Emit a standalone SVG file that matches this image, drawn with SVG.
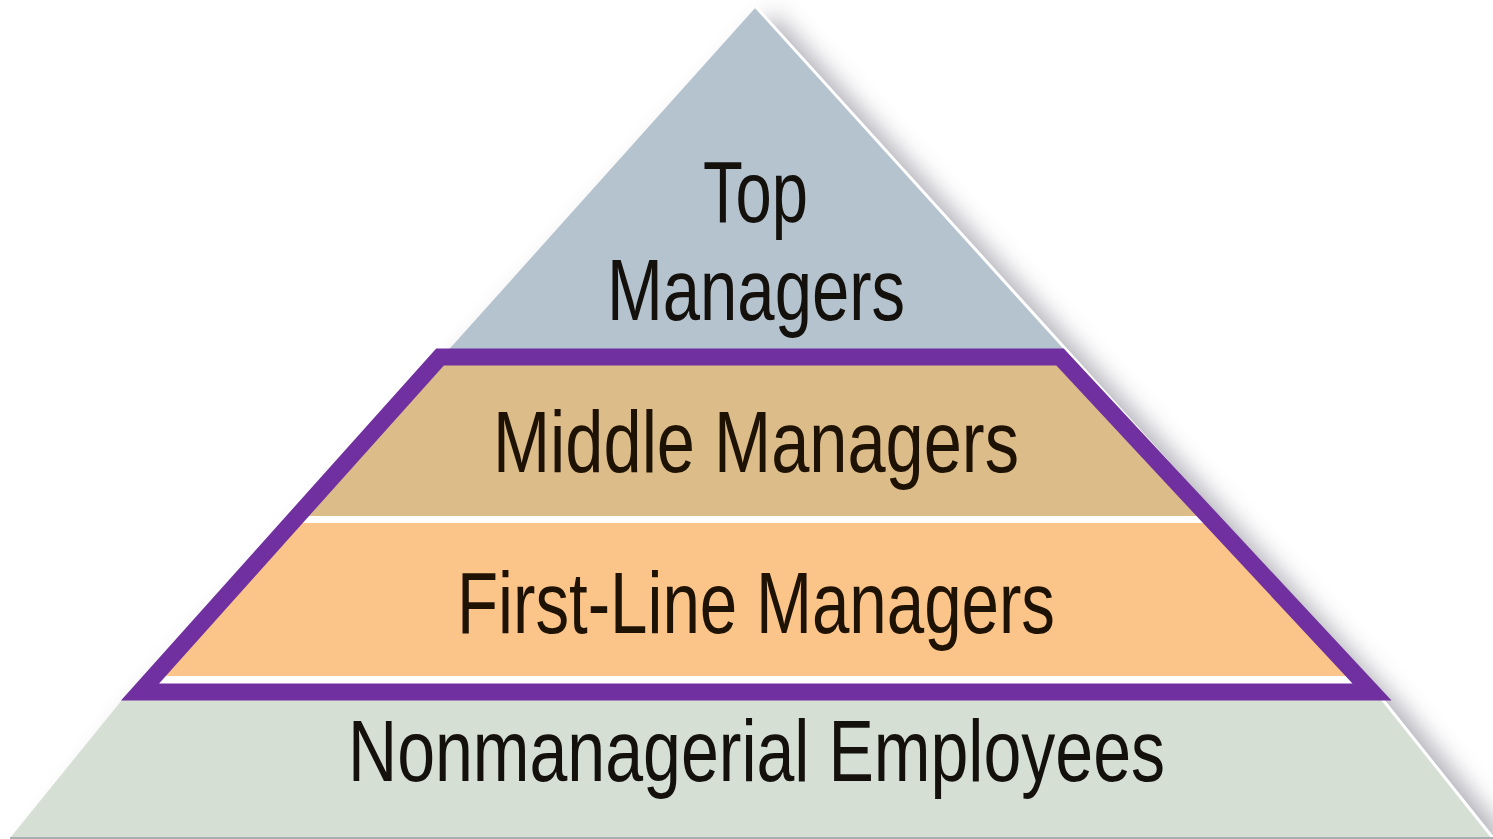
<svg xmlns="http://www.w3.org/2000/svg" width="1493" height="839" viewBox="0 0 1493 839">
  <style>
    .lbl { font-family: "Liberation Sans Narrow", "Liberation Sans", Arial, sans-serif; font-size: 88px; text-anchor: start; }
    .dark { fill: #14110c; }
    .brown { fill: #1e1205; }
  </style>
  <defs>
    <clipPath id="pyr">
      <polygon points="756,7 1062,345 1383,700 1493,838 10,838 122,700 453,345"/>
    </clipPath>
    <filter id="shadow" x="-10%" y="-10%" width="130%" height="130%">
      <feGaussianBlur stdDeviation="12"/>
    </filter>
  </defs>
  <rect width="1493" height="839" fill="#ffffff"/>
  <g id="shadow-layer">
    <polygon points="774,14 1080,352 1401,707 1515,848 30,848 136,707 467,352" fill="#8e8e9a" opacity="0.7" filter="url(#shadow)"/>
  </g>
  <g id="pyramid" clip-path="url(#pyr)">
    <rect x="0" y="0" width="1493" height="350" fill="#b5c3cf"/>
    <rect x="0" y="350" width="1493" height="166" fill="#dcbc89"/>
    <rect x="0" y="516" width="1493" height="7" fill="#ffffff"/>
    <rect x="0" y="523" width="1493" height="153" fill="#fbc589"/>
    <rect x="0" y="676" width="1493" height="8" fill="#ffffff"/>
    <rect x="0" y="684" width="1493" height="155" fill="#d5dfd3"/>
  </g>
  <g id="edge-highlight">
    <polyline points="756,7 1062,345 1383,700 1493,838" fill="none" stroke="#ffffff" stroke-width="3"/>
    <line x1="10" y1="838" x2="1493" y2="838" stroke="#a9aeb0" stroke-width="2"/>
  </g>
  <g id="connectors">
    <polygon id="highlight-frame" points="440,357 1060,357 1372,692 140,692" fill="none" stroke="#7030a0" stroke-width="17" stroke-linejoin="miter" stroke-miterlimit="4"/>
  </g>
  <g id="node-top">
    <text class="lbl dark" x="703" y="222" textLength="105" lengthAdjust="spacingAndGlyphs">Top</text>
    <text class="lbl dark" x="607" y="320" textLength="298" lengthAdjust="spacingAndGlyphs">Managers</text>
  </g>
  <g id="node-middle">
    <text class="lbl brown" x="493" y="472" textLength="526" lengthAdjust="spacingAndGlyphs">Middle Managers</text>
  </g>
  <g id="node-firstline">
    <text class="lbl brown" x="457" y="633" textLength="598" lengthAdjust="spacingAndGlyphs">First-Line Managers</text>
  </g>
  <g id="node-nonmanagerial">
    <text class="lbl dark" x="348" y="781" textLength="817" lengthAdjust="spacingAndGlyphs">Nonmanagerial Employees</text>
  </g>
</svg>
